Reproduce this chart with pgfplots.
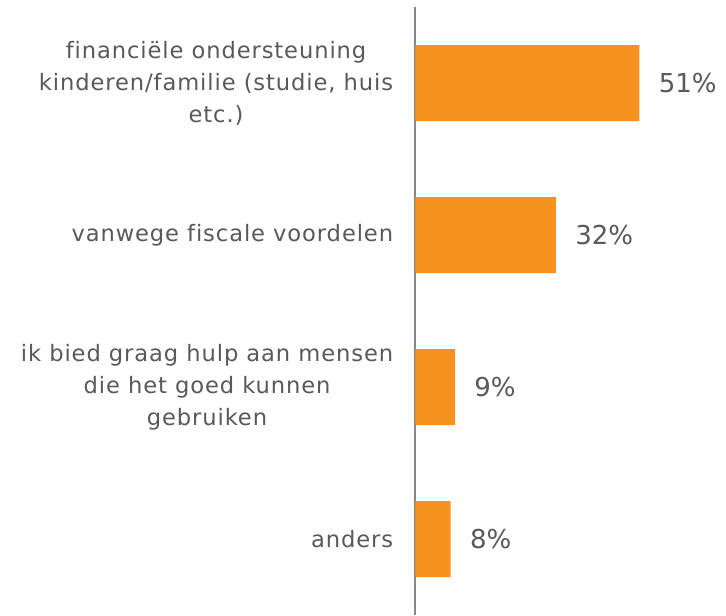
\documentclass[border=0pt]{standalone}
\usepackage{fontspec}
\setmainfont{DejaVu Sans}
\newfontfamily\lab{DejaVu Sans}[LetterSpace=4, Ligatures={NoCommon}]
\usepackage{pgfplots}
\pgfplotsset{compat=1.18}
\definecolor{barorange}{HTML}{F6921E}
\definecolor{txtgray}{HTML}{595959}
\definecolor{axgray}{HTML}{878787}
\begin{document}
\begin{tikzpicture}
\begin{axis}[
  name=ax,
  at={(0,0)}, anchor=south west,
  x=2.195pt, y=76pt,
  xmin=0, xmax=70,
  ymin=-0.5, ymax=3.5,
  y dir=reverse,
  xbar,
  bar width=38pt,
  hide x axis,
  axis lines*=left,
  y axis line style={draw=axgray, line width=1pt},
  ytick={0,1,2,3},
  yticklabels={{financiële ondersteuning\\kinderen/familie (studie, huis\\etc.)},
               {vanwege fiscale voordelen},
               {ik bied graag hulp aan mensen\\die het goed kunnen\\gebruiken},
               {anders}},
  major tick length=0pt,
  yticklabel style={align=center, inner sep=0pt, xshift=-11pt,
    font=\lab\fontsize{11.3}{16}\selectfont, text=txtgray},
  /pgf/number format/assume math mode=true,
  nodes near coords={\pgfmathprintnumber{\pgfplotspointmeta}\%},
  nodes near coords align=horizontal,
  every node near coord/.append style={font=\fontsize{13}{15}\selectfont,
    text=txtgray, inner sep=0pt, anchor=west, xshift=9.5pt},
  point meta=explicit,
  clip=false,
]
\addplot[fill=barorange, draw=none] coordinates {
  (51,0) [51]
  (32,1) [32]
  (9,2) [9]
  (8,3) [8]
};
\end{axis}
\pgfresetboundingbox
\path[use as bounding box] ([xshift=-207.75pt]ax.south west) rectangle ([xshift=1.6pt,yshift=3.5pt]ax.north east);
\end{tikzpicture}
\end{document}
